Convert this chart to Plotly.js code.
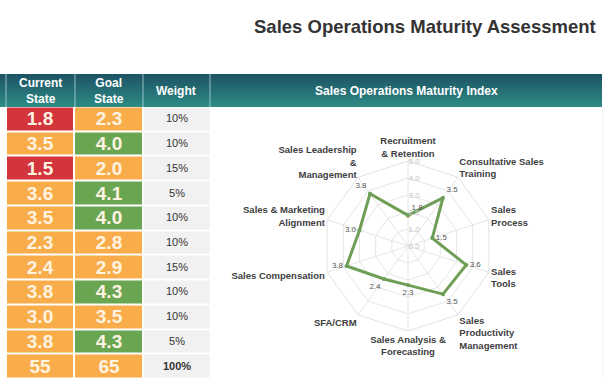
<!DOCTYPE html>
<html><head><meta charset="utf-8">
<script src="https://cdn.plot.ly/plotly-3.0.1.min.js"></script>
<style>html,body{margin:0;padding:0;background:#fff}#chart{width:612px;height:392px}</style>
</head><body><div id="chart"></div>
<script>
// ---- data ----
const categories = ["Recruitment & Retention","Consultative Sales Training","Sales Process","Sales Tools",
  "Sales Productivity Management","Sales Analysis & Forecasting","SFA/CRM","Sales Compensation",
  "Sales & Marketing Alignment","Sales Leadership & Management"];
const radarLabels = ["Recruitment<br>& Retention","Consultative Sales<br>Training","Sales<br>Process","Sales<br>Tools",
  "Sales<br>Productivity<br>Management","Sales Analysis &<br>Forecasting","SFA/CRM","Sales Compensation",
  "Sales & Marketing<br>Alignment","Sales Leadership<br>&<br>Management"];
const currentState = [1.8,3.5,1.5,3.6,3.5,2.3,2.4,3.8,3.0,3.8];
const goalState    = [2.3,4.0,2.0,4.1,4.0,2.8,2.9,4.3,3.5,4.3];
const weights      = [10,10,15,5,10,10,15,10,10,5];
const currentTotal = 55, goalTotal = 65, weightTotal = 100;
const headerLabels = ["Current<br>State","Goal<br>State","Weight","Sales Operations Maturity Index"];
const chartTitle = "Sales Operations Maturity Assessment";

// ---- helpers ----
const W = 612, H = 392;
const px = v => v / W, py = v => 1 - v / H;
function level(v){ return v < 2 ? 1 : (v < 4 ? 2 : 3); } // 1 red, 2 orange, 3 green
const nRows = categories.length + 1;
const rowIdx = Array.from({length: nRows}, (_, i) => i);

const zState = [], tState = [];
for (let i = 0; i < categories.length; i++) {
  zState.push([level(currentState[i]), level(goalState[i])]);
  tState.push([currentState[i].toFixed(1), goalState[i].toFixed(1)]);
}
zState.push([2, 2]);
tState.push([String(currentTotal), String(goalTotal)]);

const zW = [], tW = [];
for (let i = 0; i < categories.length; i++) { zW.push([0]); tW.push([weights[i] + "%"]); }
zW.push([0]); tW.push(["<b>" + weightTotal + "%</b>"]);

const cellScale = [[0,'#f1f1f1'],[1/3,'#d3353d'],[2/3,'#f8ad4a'],[1,'#6aa651']];

const traces = [
  {type:'heatmap', x:[0,1], y:rowIdx, z:zState, text:tState, texttemplate:'%{text}',
   textfont:{family:'Liberation Sans, Arial', size:19, color:'#fff3e2', weight:'bold'},
   colorscale:cellScale, zmin:0, zmax:3, showscale:false, xgap:2, ygap:2, hoverinfo:'skip',
   xaxis:'x', yaxis:'y'},
  {type:'heatmap', x:[2], y:rowIdx, z:zW, text:tW, texttemplate:'%{text}',
   textfont:{family:'Liberation Sans, Arial', size:11, color:'#333333'},
   colorscale:cellScale, zmin:0, zmax:3, showscale:false, xgap:2, ygap:2, hoverinfo:'skip',
   xaxis:'x', yaxis:'y'},
  {type:'scatterpolar', r: currentState.concat([currentState[0]]),
   theta: categories.concat([categories[0]]),
   text: currentState.map(v => v.toFixed(1)).concat([""]),
   mode:'lines+markers+text',
   textposition:['top right','top right','middle right','middle right','bottom right','bottom center',
                 'bottom left','middle left','middle left','top left','top right'],
   textfont:{family:'Liberation Sans, Arial', size:8, color:'#555555'},
   line:{color:'#6f9f57', width:3}, marker:{size:4, color:'#6f9f57'},
   subplot:'polar', hoverinfo:'skip', cliponaxis:false}
];

const shapes = [];
const hTop = 74, hBot = 107, bands = 14;
const c0 = [29,84,101], c1 = [46,138,132];
for (let b = 0; b < bands; b++) {
  const t = b / (bands - 1);
  const c = c0.map((v, k) => Math.round(v + (c1[k] - v) * t));
  const yTop = hTop + (hBot - hTop) * b / bands;
  const yBottom = Math.min(hBot, hTop + (hBot - hTop) * (b + 1) / bands + 1.5);
  shapes.push({type:'rect', xref:'paper', yref:'paper', x0:px(0), x1:px(602),
    y0:py(yBottom), y1:py(yTop),
    fillcolor:`rgb(${c.join(',')})`, line:{width:0}, layer:'below'});
}
[6, 75, 143, 210].forEach(x => shapes.push({type:'line', xref:'paper', yref:'paper',
  x0:px(x), x1:px(x), y0:py(hBot), y1:py(hTop), line:{color:'rgba(200,230,230,0.7)', width:1}}));
shapes.push({type:'line', xref:'paper', yref:'paper', x0:px(603), x1:px(603), y0:py(378), y1:py(107),
  line:{color:'#f0f0f0', width:1}});

const headerX = [40.5, 109, 176.5, 406];
const annotations = headerLabels.map((t, i) => ({xref:'paper', yref:'paper', x:px(headerX[i]), y:py(91),
  text:'<b>' + t + '</b>', showarrow:false, xanchor:'center', yanchor:'middle',
  font:{family:'Liberation Sans, Arial', size:12, color:'#ffffff'}}));
annotations.push({xref:'paper', yref:'paper', x:px(598), y:py(27), text:'<b>' + chartTitle + '</b>',
  showarrow:false, xanchor:'right', yanchor:'middle',
  font:{family:'Liberation Sans, Arial', size:18.5, color:'#333333'}});

const layout = {
  width:W, height:H, margin:{l:0, r:0, t:0, b:0}, paper_bgcolor:'#fff', plot_bgcolor:'#fff',
  showlegend:false, shapes, annotations,
  xaxis:{domain:[px(6), px(211)], range:[-0.5, 2.5], visible:false, fixedrange:true},
  yaxis:{domain:[py(378.5), py(106.5)], range:[nRows - 0.5, -0.5], visible:false, fixedrange:true},
  polar:{domain:{x:[px(323), px(493)], y:[py(331), py(161)]}, bgcolor:'rgba(0,0,0,0)',
    angularaxis:{direction:'clockwise', rotation:90, tickvals:categories, ticktext:radarLabels,
      tickfont:{family:'Liberation Sans, Arial', size:9.5, color:'#404040', weight:'bold'},
      gridcolor:'#e6e6e6', linecolor:'#e2e2e2', showline:true, ticks:''},
    radialaxis:{range:[0,5], dtick:1, tickformat:'.1f', angle:90, tickangle:90, showline:false,
      gridcolor:'#e6e6e6', tickfont:{family:'Liberation Sans, Arial', size:8, color:'#c4c4c4'}, ticks:''},
    gridshape:'linear'}
};
Plotly.newPlot('chart', traces, layout, {staticPlot:true, displayModeBar:false});
</script></body></html>
